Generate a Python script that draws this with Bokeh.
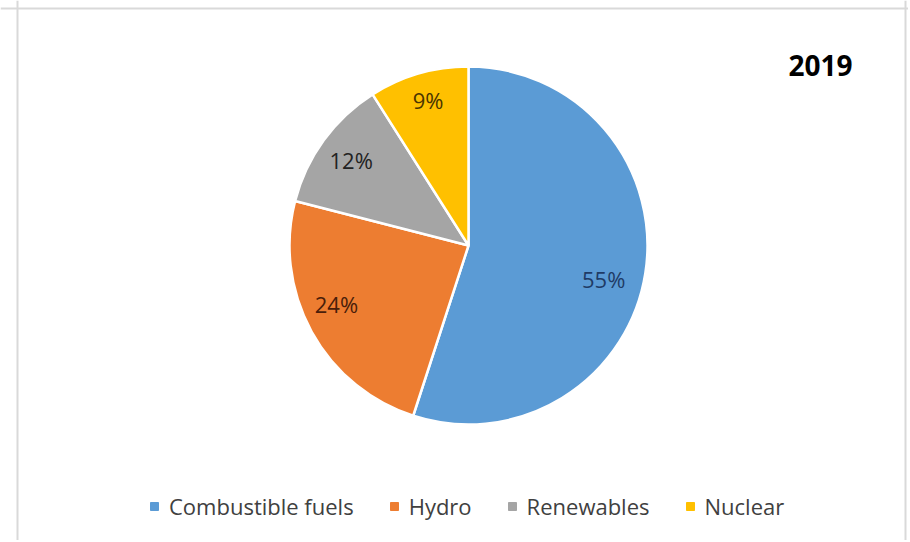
import numpy as np
from bokeh.plotting import figure
from bokeh.models import Range1d, Legend, LegendItem, Label, Span, ColumnDataSource
from bokeh.embed import file_html
from bokeh.resources import INLINE

# ---- data ----
categories = ["Combustible fuels", "Hydro", "Renewables", "Nuclear"]
shares = [55, 24, 12, 9]
labels = ["55%", "24%", "12%", "9%"]
year_title = "2019"
colors = ["#5B9BD5", "#ED7D31", "#A5A5A5", "#FFC000"]
label_colors = ["#1F3B66", "#4A1E0A", "#222222", "#4A3500"]

# ---- layout constants (pixels) ----
W, H = 908, 540
R_PX = 179.0
CX, CY = 468.0, 295.0  # pie centre in figure pixels (from left, from bottom)
LABEL_NUDGE = [(-8, -11), (-5, 11), (0, 0), (0, 6)]  # best-fit label nudges

p = figure(width=W, height=H, output_backend="svg", toolbar_location=None,
           x_range=Range1d(-CX / R_PX, (W - CX) / R_PX),
           y_range=Range1d(-CY / R_PX, (H - CY) / R_PX),
           min_border=0, min_border_left=0, min_border_right=0,
           min_border_top=0, min_border_bottom=0)
p.axis.visible = False
p.grid.visible = False
p.outline_line_color = None
p.background_fill_color = "white"
p.border_fill_color = "white"

vals = np.array(shares, dtype=float)
frac = vals / vals.sum()
cum_end = np.cumsum(frac)
cum_start = cum_end - frac
start_angle = np.pi / 2 - 2 * np.pi * cum_end
end_angle = np.pi / 2 - 2 * np.pi * cum_start
mid = (start_angle + end_angle) / 2

src = ColumnDataSource(dict(start=start_angle, end=end_angle, color=colors,
                            x=[0] * len(vals), y=[0] * len(vals)))
p.wedge(x="x", y="y", radius=1.0, start_angle="start", end_angle="end",
        direction="anticlock", fill_color="color", line_color="white",
        line_width=2.5, source=src)

# data labels
lr = 0.81
for m, t, c, (dx, dy) in zip(mid, labels, label_colors, LABEL_NUDGE):
    p.add_layout(Label(x=lr * np.cos(m), y=lr * np.sin(m), text=t,
                       x_offset=dx, y_offset=dy,
                       text_align="center", text_baseline="middle",
                       text_font="Open Sans", text_font_size="22px",
                       text_color=c))

# title
p.add_layout(Label(x=820, y=H - 65, x_units="screen", y_units="screen",
                   text=year_title, text_align="center", text_baseline="middle",
                   text_font="Open Sans", text_font_style="bold",
                   text_font_size="28px", text_color="#000000"))

# chart border (left, right, top)
bc = "#D9D9D9"
p.add_layout(Span(location=(17 - CX) / R_PX, dimension="height", line_color=bc, line_width=2))
p.add_layout(Span(location=(905 - CX) / R_PX, dimension="height", line_color=bc, line_width=2))
p.add_layout(Span(location=(H - 8 - CY) / R_PX, dimension="width", line_color=bc, line_width=2))

# legend (marker renderers placed outside the visible range)
items = []
for cat, c in zip(categories, colors):
    r = p.scatter(x=[100.0], y=[100.0], marker="square", size=8,
                  fill_color=c, line_color=c)
    items.append(LegendItem(label=cat, renderers=[r]))
legend = Legend(items=items, orientation="horizontal", location=(144, 19),
                glyph_width=20, glyph_height=20, label_standoff=5, spacing=30,
                padding=0, margin=0, border_line_color=None,
                background_fill_alpha=0, label_text_font="Open Sans",
                label_text_font_size="22px", label_text_color="#404040")
p.add_layout(legend)

open("out.html", "w").write(file_html(p, INLINE))
